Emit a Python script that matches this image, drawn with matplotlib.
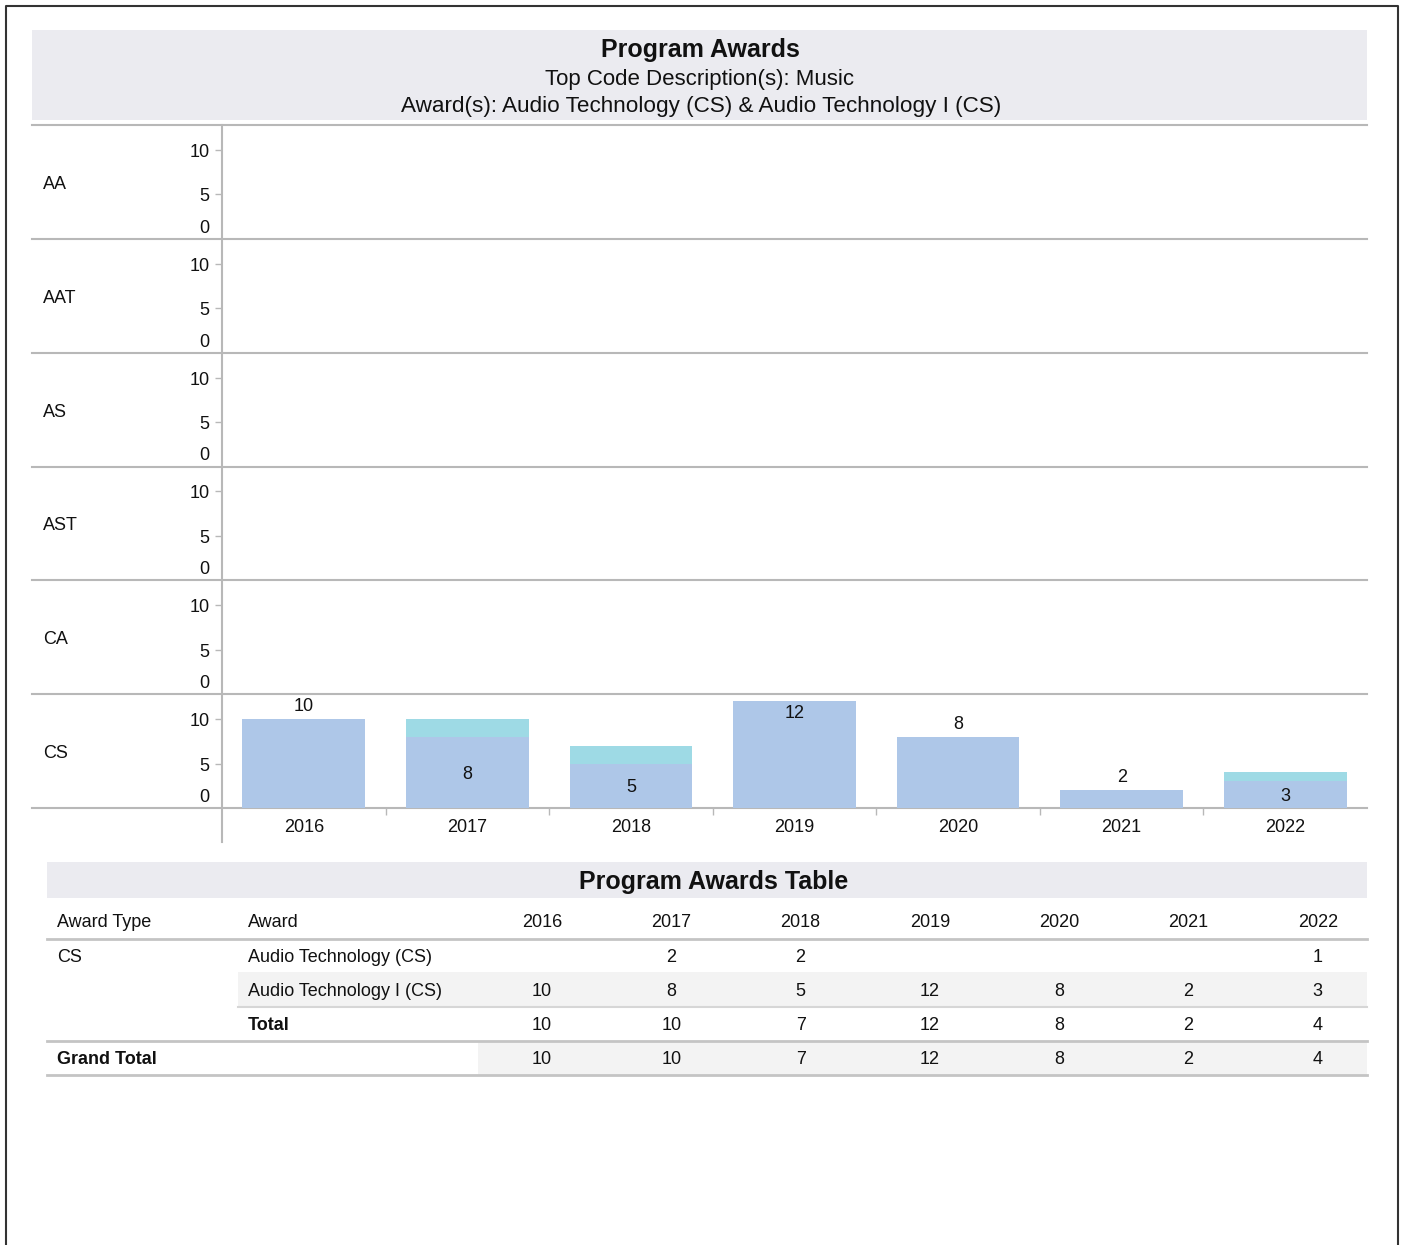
import numpy as np
import matplotlib
matplotlib.use("Agg")
import matplotlib.pyplot as plt
from matplotlib.patches import Rectangle

plt.rcParams['font.family'] = ['Liberation Sans', 'DejaVu Sans']

# data
years = [2016, 2017, 2018, 2019, 2020, 2021, 2022]
award_types = ['AA', 'AAT', 'AS', 'AST', 'CA', 'CS']
awards = ['Audio Technology (CS)', 'Audio Technology I (CS)']
audio_tech_cs = [0, 2, 2, 0, 0, 0, 1]
audio_tech_i_cs = [10, 8, 5, 12, 8, 2, 3]

c_base = '#aec7e8'
c_top = '#9edae5'
grid_c = '#b8b8b8'
txt_c = '#111111'
dy = 2.5  # matplotlib centres a bit high compared to the browser render

W, H = 1402, 1245
fig = plt.figure(figsize=(W / 100, H / 100), dpi=100)


def rect(x0, y0, x1, y1):
    return [x0 / W, 1 - y1 / H, (x1 - x0) / W, (y1 - y0) / H]


# overlay in pixel coords for frame, titles and table
bg = fig.add_axes([0, 0, 1, 1], zorder=0)
bg.set_xlim(0, W)
bg.set_ylim(H, 0)
bg.axis('off')

# page border
bg.plot([6, 6, 1398, 1398], [H, 6, 6, H], color='#333333', lw=1.5)

# title band
bg.add_patch(Rectangle((32, 30), 1335, 90, color='#ebebf0', lw=0))
bg.text(700, 48 + dy, 'Program Awards', ha='center', va='center', fontsize=18,
        fontweight='bold', color=txt_c)
bg.text(700, 77 + dy, 'Top Code Description(s): Music', ha='center', va='center',
        fontsize=16, color=txt_c)
bg.text(701, 104 + dy, 'Award(s): ' + ' & '.join(awards), ha='center', va='center',
        fontsize=16.2, color=txt_c)

# facet rows
top, bottom = 125, 808
left, right = 222, 1367
row_h = (bottom - top) / len(award_types)
ymax = 12.8
x = np.arange(len(years))

for i, t in enumerate(award_types):
    y0 = top + i * row_h
    bg.plot([32, right], [y0, y0], color=grid_c, lw=1.5)
    bg.text(43, y0 + row_h / 2 + dy, t, va='center', ha='left', fontsize=13, color=txt_c)

    ax = fig.add_axes(rect(left, y0, right, y0 + row_h), zorder=2)
    ax.patch.set_alpha(0)
    ax.set_xlim(-0.5, len(years) - 0.5)
    ax.set_ylim(0, ymax)
    for s in ax.spines.values():
        s.set_visible(False)
    ax.set_yticks([5, 10])
    ax.set_yticklabels([])
    ax.tick_params(axis='y', length=5, color=grid_c, width=1)
    for v in [0, 5, 10]:
        ax.annotate(str(v), xy=(0, v), xycoords=('axes fraction', 'data'),
                    xytext=(-9, 1.5 if v == 0 else -1.8), textcoords='offset points',
                    ha='right', va='bottom' if v == 0 else 'center',
                    fontsize=13, color=txt_c)

    if t == 'CS':
        ax.bar(x, audio_tech_i_cs, width=0.75, color=c_base)
        ax.bar(x, audio_tech_cs, width=0.75, bottom=audio_tech_i_cs, color=c_top)
        for xi, v, o in zip(x, audio_tech_i_cs, audio_tech_cs):
            if o > 0:
                ax.annotate(str(v), xy=(xi, v / 2), xytext=(0, -1.5),
                            textcoords='offset points', ha='center', va='center',
                            fontsize=13, color=txt_c)
            elif v + 1.8 > ymax:
                ax.annotate(str(v), xy=(xi, v), xytext=(0, -3),
                            textcoords='offset points', ha='center', va='top',
                            fontsize=13, color=txt_c)
            else:
                ax.annotate(str(v), xy=(xi, v), xytext=(0, 3),
                            textcoords='offset points', ha='center', va='bottom',
                            fontsize=13, color=txt_c)
        ax.set_xticks(x)
        ax.set_xticklabels([str(y) for y in years], fontsize=13, color=txt_c)
        ax.set_xticks(x[:-1] + 0.5, minor=True)
        ax.tick_params(axis='x', which='major', length=0, pad=8)
        ax.tick_params(axis='x', which='minor', length=5, color=grid_c, width=1)
    else:
        ax.set_xticks([])

bg.plot([32, right], [bottom, bottom], color=grid_c, lw=1.5)
bg.plot([left, left], [top, 842], color=grid_c, lw=1.5)

# table
bg.add_patch(Rectangle((47, 862), 1320, 36, color='#ebebf0', lw=0))
bg.text(714, 880 + dy, 'Program Awards Table', ha='center', va='center', fontsize=18,
        fontweight='bold', color=txt_c)

col_x = [542 + k * 129.3 for k in range(len(years))]
hdr_y, r1_y, r2_y, tot_y, gt_y = [v + dy for v in (920, 955, 989, 1023, 1057)]

bg.add_patch(Rectangle((238, 972), 1129, 34, color='#f3f3f3', lw=0))
bg.add_patch(Rectangle((478, 1042), 889, 33, color='#f3f3f3', lw=0))
bg.plot([47, 1367], [939, 939], color='#c4c4c4', lw=2)
bg.plot([238, 1367], [1007, 1007], color='#d6d6d6', lw=1.5)
bg.plot([47, 1367], [1041, 1041], color='#c4c4c4', lw=2)
bg.plot([47, 1367], [1075, 1075], color='#c4c4c4', lw=2)

bg.text(57, hdr_y, 'Award Type', va='center', fontsize=13, color=txt_c)
bg.text(248, hdr_y, 'Award', va='center', fontsize=13, color=txt_c)
bg.text(57, r1_y, 'CS', va='center', fontsize=13, color=txt_c)
bg.text(248, r1_y, awards[0], va='center', fontsize=13, color=txt_c)
bg.text(248, r2_y, awards[1], va='center', fontsize=13, color=txt_c)
bg.text(248, tot_y, 'Total', va='center', fontsize=13, fontweight='bold', color=txt_c)
bg.text(57, gt_y, 'Grand Total', va='center', fontsize=13, fontweight='bold', color=txt_c)

totals = [a + b for a, b in zip(audio_tech_cs, audio_tech_i_cs)]
for cx, yr, a, b, tt in zip(col_x, years, audio_tech_cs, audio_tech_i_cs, totals):
    bg.text(cx, hdr_y, str(yr), ha='center', va='center', fontsize=13, color=txt_c)
    if a:
        bg.text(cx, r1_y, str(a), ha='center', va='center', fontsize=13, color=txt_c)
    if b:
        bg.text(cx, r2_y, str(b), ha='center', va='center', fontsize=13, color=txt_c)
    bg.text(cx, tot_y, str(tt), ha='center', va='center', fontsize=13, color=txt_c)
    bg.text(cx, gt_y, str(tt), ha='center', va='center', fontsize=13, color=txt_c)

fig.savefig('out.png', dpi=100, facecolor='white')
